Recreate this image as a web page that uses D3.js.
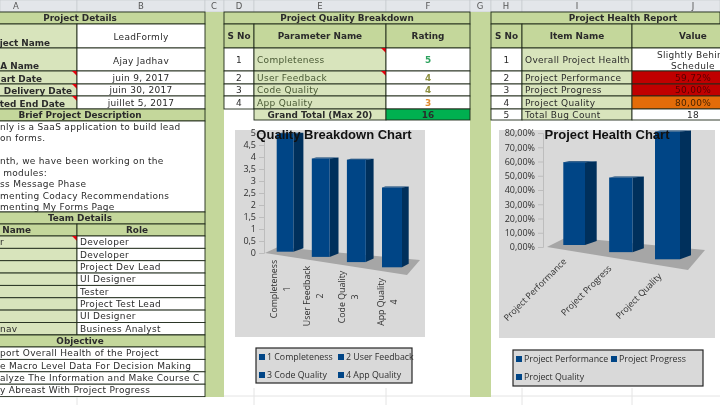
<!DOCTYPE html>
<html>
<head>
<meta charset="utf-8">
<script src="https://cdn.jsdelivr.net/npm/d3@7"></script>
<style>
html, body { margin: 0; padding: 0; background: #fff; overflow: hidden; }
svg { display: block; filter: blur(0.3px); }
text { font-family: "DejaVu Sans", sans-serif; }
.chart text { font-family: "Open Sans", "Liberation Sans", sans-serif; }
</style>
</head>
<body>
<svg id="sheet" width="720" height="405"></svg>
<script>
// column headers
const colLetters = ['A', 'B', 'C', 'D', 'E', 'F', 'G', 'H', 'I', 'J'];
const colLetterX = [16, 141, 214, 239, 320, 428, 480, 506, 577, 693];

// chart data
const qualityCategories = ['Completeness', 'User Feedback', 'Code Quality', 'App Quality'];
const qualityNumbers = ['1', '2', '3', '4'];
const qualityRatings = [5, 4, 4, 3];
const qualityTicks = [0, 0.5, 1, 1.5, 2, 2.5, 3, 3.5, 4, 4.5, 5];

const healthCategories = ['Project Performance', 'Project Progress', 'Project Quality'];
const healthValues = [59.72, 50, 80];
const healthTicks = [0, 10, 20, 30, 40, 50, 60, 70, 80];

// sheet text
const detailLabels = ['ject Name', 'A Name', 'art Date', 'Delivery Date', 'ted End Date'];
const detailValues = ['LeadFormly', 'Ajay Jadhav', 'juin 9, 2017', 'juin 30, 2017', 'juillet 5, 2017'];
const briefLines = ['nly is a SaaS application to build lead', 'on forms.', '', 'nth, we have been working on the', ' modules:', 'ss Message Phase', 'menting Codacy Recommendations', 'menting My Forms Page'];
const teamNames = ['r', '', '', '', '', '', '', 'nav'];
const teamRoles = ['Developer', 'Developer', 'Project Dev Lead', 'UI Designer', 'Tester', 'Project Test Lead', 'UI Designer', 'Business Analyst'];
const objectives = ['port Overall Health of the Project', 'e Macro Level Data For Decision Making', 'alyze The Information and Make Course C', 'y Abreast With Project Progress'];
const healthItems = ['Overall Project Health', 'Project Performance', 'Project Progress', 'Project Quality', 'Total Bug Count'];

const svg = d3.select('#sheet');
const colX = [0, 77, 205, 224, 254, 386, 470, 491, 522, 632, 720];
const rowY = [12, 24, 48, 71, 84, 96, 109, 121];
const teamY = d3.range(9).map((i) => 236 + i * 12.35);
const objY = d3.range(5).map((i) => 347 + i * 12.4);

const HEAD = '#c4d79b', LABEL = '#d8e4bc', GUTTER = '#c4d79b', LINE = '#1f2a1a';

// sheet background + column letters
svg.append('rect').attr('width', 720).attr('height', 405).attr('fill', '#fff');
const letters = svg.append('g');
letters.selectAll('rect').data(colLetters).enter().append('rect')
	.attr('x', (d, i) => colX[i]).attr('y', 0)
	.attr('width', (d, i) => colX[i + 1] - colX[i]).attr('height', 12)
	.attr('fill', '#e3e6ea').attr('stroke', '#c6cacf').attr('stroke-width', 0.7);
letters.selectAll('text').data(colLetters).enter().append('text')
	.attr('x', (d, i) => colLetterX[i]).attr('y', 9)
	.attr('text-anchor', 'middle').attr('font-size', 8.5).attr('fill', '#555').text((d) => d);

// green gutters
svg.append('rect').attr('x', 205).attr('y', 12).attr('width', 19).attr('height', 385).attr('fill', GUTTER);
svg.append('rect').attr('x', 470).attr('y', 12).attr('width', 21).attr('height', 385).attr('fill', GUTTER);

function cell (x0, x1, y0, y1, fill, label, o = {}) {
	const g = svg.append('g');
	g.append('rect').attr('x', x0).attr('y', y0).attr('width', x1 - x0).attr('height', y1 - y0)
		.attr('fill', fill).attr('stroke', LINE).attr('stroke-width', 0.9);
	if (o.note) {
		g.append('path').attr('d', `M${x1 - 5},${y0}H${x1}V${y0 + 5}Z`).attr('fill', '#e8000d');
	}
	if (label) {
		const anchor = o.anchor || 'middle';
		const tx = o.cx !== undefined ? o.cx : anchor === 'middle' ? (x0 + x1) / 2 : anchor === 'start' ? x0 + (o.pad === undefined ? 2 : o.pad) : o.endX;
		g.append('text').attr('x', tx).attr('y', o.y || (y0 + y1) / 2 + 3)
			.attr('text-anchor', anchor).attr('font-size', o.bold ? 8.9 : 9)
			.attr('letter-spacing', o.bold ? 0 : 0.3)
			.attr('font-weight', o.bold ? 700 : 400).attr('fill', o.color || '#2b2b2b')
			.attr('xml:space', 'preserve').text(label);
	}
}

// project details
cell(-1, 205, 12, 24, HEAD, 'Project Details', { bold: true, cx: 80 });
const detailEnd = [50, 39, 42, 72, 65];
detailLabels.forEach((d, i) => {
	const y0 = rowY[i + 1], y1 = rowY[i + 2];
	cell(-1, 77, y0, y1, LABEL, d, { bold: true, anchor: 'end', endX: detailEnd[i], y: y1 - 1.8, note: i > 1 });
	cell(77, 205, y0, y1, '#fff', detailValues[i], { y: i < 2 ? y0 + 16 : undefined });
});
cell(-1, 205, 109, 121, HEAD, 'Brief Project Description', { bold: true, cx: 80 });
cell(-1, 205, 121, 212, '#fff', '');
briefLines.forEach((d, i) => {
	if (d) {
		svg.append('text').attr('x', 0).attr('y', 130 + i * 11.45).attr('font-size', 9).attr('letter-spacing', 0.3)
			.attr('fill', '#2b2b2b').attr('xml:space', 'preserve').text(d);
	}
});

// team details
cell(-1, 205, 212, 224, HEAD, 'Team Details', { bold: true, cx: 80 });
cell(-1, 77, 224, 236, HEAD, ' Name', { bold: true, anchor: 'end', endX: 31 });
cell(77, 205, 224, 236, HEAD, 'Role', { bold: true, cx: 137 });
teamRoles.forEach((d, i) => {
	cell(-1, 77, teamY[i], teamY[i + 1], LABEL, teamNames[i], { anchor: 'start', pad: 1, note: i === 0 });
	cell(77, 205, teamY[i], teamY[i + 1], '#fff', d, { anchor: 'start', pad: 3 });
});
cell(-1, 205, 335, 347, HEAD, 'Objective', { bold: true, cx: 80 });
objectives.forEach((d, i) => cell(-1, 205, objY[i], objY[i + 1], '#fff', d, { anchor: 'start', pad: 1 }));

// white area the charts sit on
svg.append('rect').attr('x', 224).attr('y', 121).attr('width', 246).attr('height', 284).attr('fill', '#fff');
svg.append('rect').attr('x', 491).attr('y', 121).attr('width', 229).attr('height', 284).attr('fill', '#fff');
[[224, 470], [491, 720]].forEach((r) => {
	svg.append('line').attr('x1', r[0]).attr('x2', r[1]).attr('y1', 396).attr('y2', 396).attr('stroke', '#e4e4e4');
});
[254, 386, 522, 632, 77].forEach((x) => {
	svg.append('line').attr('x1', x).attr('x2', x).attr('y1', x === 77 ? 397 : 388).attr('y2', 405).attr('stroke', '#e4e4e4');
});

// quality table
cell(224, 470, 12, 24, HEAD, 'Project Quality Breakdown', { bold: true });
cell(224, 254, 24, 48, HEAD, 'S No', { bold: true });
cell(254, 386, 24, 48, HEAD, 'Parameter Name', { bold: true });
cell(386, 470, 24, 48, HEAD, 'Rating', { bold: true });
const ratingColors = d3.scaleOrdinal().domain([5, 4, 3]).range(['#2ea35f', '#8f9142', '#e08a2e']);
qualityCategories.forEach((d, i) => {
	const y0 = rowY[i + 2], y1 = rowY[i + 3];
	cell(224, 254, y0, y1, '#fff', qualityNumbers[i]);
	cell(254, 386, y0, y1, LABEL, d, { anchor: 'start', pad: 3, note: i < 2, color: '#4a5a35' });
	cell(386, 470, y0, y1, '#fff', String(qualityRatings[i]), { color: ratingColors(qualityRatings[i]), bold: true });
});
cell(254, 386, 109, 120, LABEL, 'Grand Total (Max 20)', { bold: true });
cell(386, 470, 109, 120, '#00b050', String(d3.sum(qualityRatings)), { bold: true });

// health table
cell(491, 720, 12, 24, HEAD, 'Project Health Report', { bold: true, cx: 623 });
cell(491, 522, 24, 48, HEAD, 'S No', { bold: true });
cell(522, 632, 24, 48, HEAD, 'Item Name', { bold: true });
cell(632, 721, 24, 48, HEAD, 'Value', { bold: true, cx: 693 });
const healthFills = ['#fff', '#c00000', '#c00000', '#e36c09', '#fff'];
const healthText = ['', '59,72%', '50,00%', '80,00%', '18'];
healthItems.forEach((d, i) => {
	const y0 = rowY[i + 2], y1 = i === 4 ? 120 : rowY[i + 3];
	cell(491, 522, y0, y1, '#fff', String(i + 1));
	cell(522, 632, y0, y1, LABEL, d, { anchor: 'start', pad: 3 });
	cell(632, 721, y0, y1, healthFills[i], healthText[i], { cx: 693, color: i === 1 || i === 2 ? '#560000' : i === 3 ? '#4a2400' : '#2b2b2b' });
});
svg.append('text').attr('x', 693).attr('y', 58).attr('text-anchor', 'middle').attr('font-size', 9).attr('letter-spacing', 0.3).attr('fill', '#2b2b2b').text('Slightly Behind');
svg.append('text').attr('x', 693).attr('y', 69).attr('text-anchor', 'middle').attr('font-size', 9).attr('letter-spacing', 0.3).attr('fill', '#2b2b2b').text('Schedule');

// 3d column chart
function columnChart (c) {
	const g = svg.append('g').attr('class', 'chart');
	g.append('rect').attr('x', c.box[0]).attr('y', c.box[1]).attr('width', c.box[2]).attr('height', c.box[3]).attr('fill', '#d9d9d9');
	g.append('polygon').attr('points', c.floor.join(' ')).attr('fill', '#a6a6a6');

	const last = c.values.length - 1;
	const at = (range) => d3.scaleLinear().domain([0, last]).range(range);
	const left = at(c.left), wide = at(c.wide), side = at(c.side), base = at(c.base), full = at(c.full);
	const h = (v, i) => d3.scaleLinear().domain([0, c.max]).range([0, full(i)])(v);

	const y = d3.scaleLinear().domain([0, c.max]).range([c.axisY[0], c.axisY[1]]);
	const axis = g.append('g').attr('transform', `translate(${c.axisX},0)`)
		.call(d3.axisLeft(y).tickValues(c.ticks).tickSize(5).tickPadding(3).tickFormat(c.format));
	axis.selectAll('path,line').attr('stroke', '#bdbdbd');
	axis.selectAll('text').attr('font-size', 9).attr('fill', '#2f2f2f');

	const bars = g.selectAll('g.bar').data(c.values).enter().append('g').attr('class', 'bar');
	// side
	bars.append('path').attr('fill', '#00305c').attr('d', (v, i) => {
		const x1 = left(i) + wide(i), b = base(i), t = b - h(v, i), s = side(i);
		return `M${x1},${t}L${x1 + s},${t - 1}L${x1 + s},${b - c.rise}L${x1},${b}Z`;
	});
	// top
	bars.append('path').attr('fill', '#003a70').attr('d', (v, i) => {
		const x0 = left(i), x1 = x0 + wide(i), t = base(i) - h(v, i), s = side(i);
		return `M${x0},${t}L${x0 + s * 0.5},${t - 1}L${x1 + s},${t - 1}L${x1},${t}Z`;
	});
	// front
	bars.append('rect').attr('fill', '#004586')
		.attr('x', (v, i) => left(i)).attr('width', (v, i) => wide(i))
		.attr('y', (v, i) => base(i) - h(v, i)).attr('height', (v, i) => h(v, i));

	c.labels(g);

	g.append('text').attr('x', c.titleX).attr('y', c.box[1] + 9).attr('text-anchor', 'middle')
		.attr('font-size', 13).attr('font-weight', 700).attr('fill', '#111')
		.style('font-family', '"Liberation Sans", sans-serif').text(c.title);

	// legend
	g.append('rect').attr('x', c.legend.box[0]).attr('y', c.legend.box[1]).attr('width', c.legend.box[2]).attr('height', c.legend.box[3])
		.attr('fill', '#d9d9d9').attr('stroke', '#262626').attr('stroke-width', 1.2);
	const item = g.selectAll('g.item').data(c.legend.items).enter().append('g').attr('class', 'item')
		.attr('transform', (d, i) => `translate(${c.legend.x[i]},${c.legend.y[i]})`);
	item.append('rect').attr('x', 0).attr('y', -3).attr('width', 6).attr('height', 6).attr('fill', '#004586');
	item.append('text').attr('x', 8).attr('y', 3).attr('font-size', 8.8).attr('fill', '#2f2f2f').text((d) => d);
}

const labelX = [280, 313, 348, 387];
const labelY = [289, 296, 297, 302];
columnChart({
	title: 'Quality Breakdown Chart',
	titleX: 334,
	box: [235, 130, 190, 207],
	floor: ['265,253', '278,247', '420,260', '407,275'],
	values: qualityRatings,
	max: 5,
	ticks: qualityTicks,
	format: (d) => String(d).replace('.', ','),
	axisX: 264,
	axisY: [253, 133],
	left: [276.7, 382], wide: [16.7, 20], side: [10, 6.7], base: [251.7, 267.3], full: [118, 133], rise: 3.5,
	labels: (g) => {
		const t = g.selectAll('g.cat').data(qualityCategories).enter().append('g').attr('class', 'cat')
			.attr('transform', (d, i) => `translate(${labelX[i]},${labelY[i]}) rotate(-90)`);
		t.append('text').attr('y', -3).attr('text-anchor', 'middle').attr('font-size', 8.8).attr('fill', '#2f2f2f').text((d) => d);
		t.append('text').attr('y', 10).attr('text-anchor', 'middle').attr('font-size', 8.8).attr('fill', '#2f2f2f').text((d, i) => qualityNumbers[i]);
	},
	legend: {
		box: [256, 348, 156, 35],
		items: qualityCategories.map((d, i) => qualityNumbers[i] + ' ' + d),
		x: [259, 338, 259, 338],
		y: [357, 357, 375, 375]
	}
});

const healthEndX = [567, 612, 662];
const healthEndY = [262, 269, 277];
columnChart({
	title: 'Project Health Chart',
	titleX: 607,
	box: [499, 130, 216, 208],
	floor: ['547,247', '567,237', '705,250', '688,270'],
	values: healthValues,
	max: 80,
	ticks: healthTicks,
	format: (d) => d.toFixed(2).replace('.', ',') + '%',
	axisX: 543,
	axisY: [247, 133],
	left: [563.3, 655], wide: [21.7, 25], side: [11.7, 11], base: [245, 259.3], full: [111, 127.7], rise: 4,
	labels: (g) => {
		g.selectAll('text.cat').data(healthCategories).enter().append('text').attr('class', 'cat')
			.attr('transform', (d, i) => `translate(${healthEndX[i]},${healthEndY[i]}) rotate(-45)`)
			.attr('text-anchor', 'end').attr('font-size', 8.8).attr('fill', '#2f2f2f').text((d) => d);
	},
	legend: {
		box: [513, 350, 190, 36],
		items: healthCategories,
		x: [516, 611, 516],
		y: [359, 359, 377]
	}
});
</script>
</body>
</html>
